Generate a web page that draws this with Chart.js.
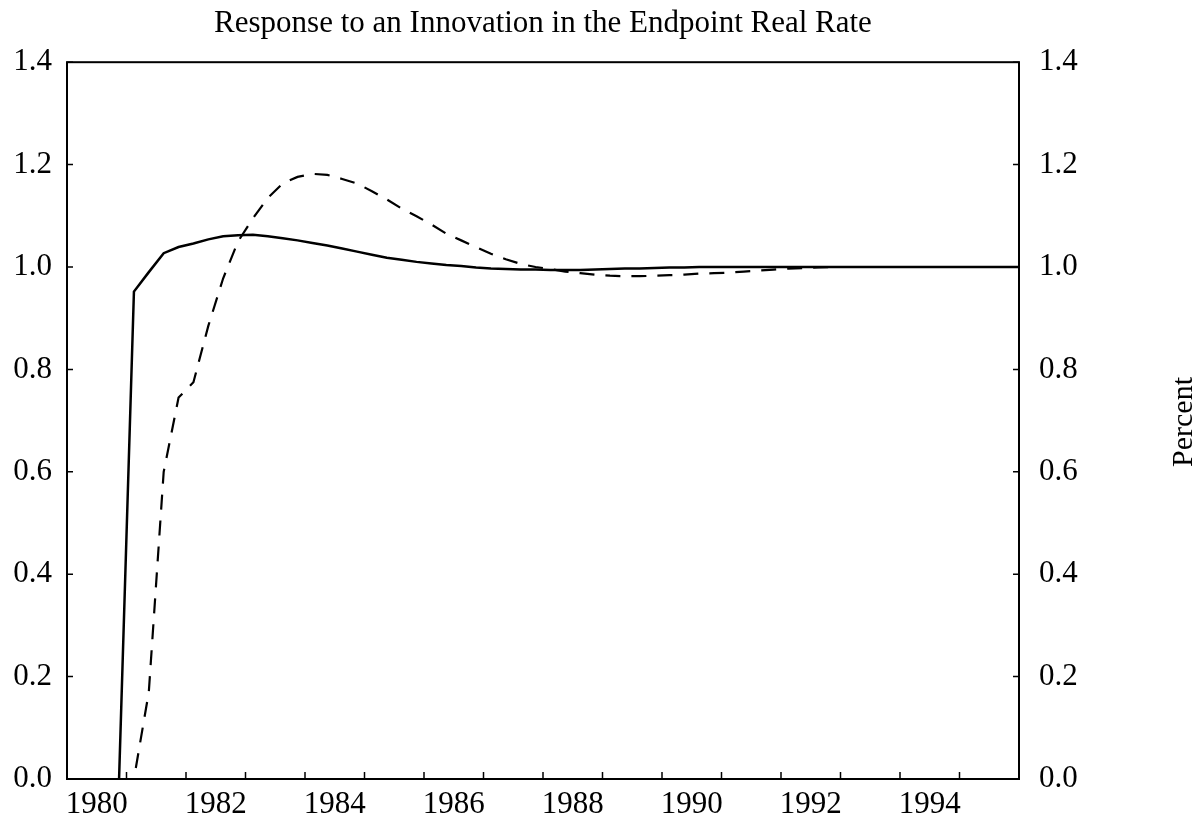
<!DOCTYPE html>
<html>
<head>
<meta charset="utf-8">
<title>Response to an Innovation in the Endpoint Real Rate</title>
<script src="https://cdn.jsdelivr.net/npm/chart.js@4"></script>
<style>
  html, body { margin: 0; padding: 0; background: #fff; }
  #chart { display: block; }
</style>
</head>
<body>
<canvas id="chart" width="1196" height="818"></canvas>
<script>
// quarterly impulse response, first quarter plotted at 1980:4
const START = 1980.875;
const X_MIN = 1980;
const X_MAX = 1996;
const LABEL_YEARS = [1980, 1982, 1984, 1986, 1988, 1990, 1992, 1994];
const TICK_YEARS = [1981, 1982, 1983, 1984, 1985, 1986, 1987, 1988, 1989, 1990, 1991, 1992, 1993, 1994, 1995];
const Y_TICKS = [0, 0.2, 0.4, 0.6, 0.8, 1.0, 1.2, 1.4];

// solid line
const SOLID = [
  0, 0.952, 0.990, 1.027, 1.039, 1.046, 1.054, 1.060, 1.062, 1.063,
  1.060, 1.056, 1.052, 1.047, 1.042, 1.036, 1.030, 1.024, 1.018, 1.014,
  1.010, 1.007, 1.004, 1.002, 0.999, 0.997, 0.996, 0.995, 0.995, 0.994,
  0.994, 0.994, 0.995, 0.996, 0.997, 0.997, 0.998, 0.999, 0.999, 1.000,
  1.000, 1.000, 1.000, 1.000, 1.000, 1.000, 1.000, 1.000, 1.000, 1.000,
  1.000, 1.000, 1.000, 1.000, 1.000, 1.000, 1.000, 1.000, 1.000, 1.000,
  1.000, 1.000
];

// dashed line
const DASHED = [
  0, 0, 0.170, 0.600, 0.745, 0.775, 0.885, 0.978, 1.050, 1.095,
  1.135, 1.163, 1.176, 1.182, 1.180, 1.172, 1.163, 1.148, 1.132, 1.114,
  1.099, 1.083, 1.065, 1.052, 1.039, 1.026, 1.015, 1.006, 1.000, 0.996,
  0.991, 0.988, 0.985, 0.983, 0.982, 0.982, 0.983, 0.984, 0.985, 0.987,
  0.988, 0.989, 0.991, 0.993, 0.995, 0.997, 0.998, 0.999, 1.000, 1.000,
  1.000, 1.000, 1.000, 1.000, 1.000, 1.000, 1.000, 1.000, 1.000, 1.000,
  1.000, 1.000
];

const QUARTERS = SOLID.map((_, i) => START + i * 0.25);

Chart.defaults.font.family = '"Liberation Serif", "Times New Roman", serif';
Chart.defaults.color = "#000";

// frame, inward tick marks and the rotated "Percent" label
const framePlugin = {
  id: "frame",
  afterDatasetsDraw(chart) {
    const { ctx, chartArea: a, scales } = chart;
    ctx.save();
    ctx.strokeStyle = "#000";
    ctx.lineWidth = 2;
    ctx.strokeRect(a.left, a.top, a.right - a.left, a.bottom - a.top);

    ctx.lineWidth = 1.5;
    ctx.beginPath();
    TICK_YEARS.forEach(v => {
      const x = scales.x.getPixelForValue(v);
      ctx.moveTo(x, a.bottom);
      ctx.lineTo(x, a.bottom - 7);
    });
    Y_TICKS.forEach(v => {
      const y = scales.y.getPixelForValue(v);
      ctx.moveTo(a.left, y);
      ctx.lineTo(a.left + 6, y);
      ctx.moveTo(a.right, y);
      ctx.lineTo(a.right - 6, y);
    });
    ctx.stroke();

    ctx.translate(1192, 422);
    ctx.rotate(-Math.PI / 2);
    ctx.font = '30px "Liberation Serif"';
    ctx.fillStyle = "#000";
    ctx.textAlign = "center";
    ctx.textBaseline = "alphabetic";
    ctx.fillText("Percent", 0, 0);
    ctx.restore();
  }
};

function initChart() {
  const ctx = document.getElementById("chart").getContext("2d");

  const yAxis = (position, width, pad) => ({
    position,
    min: 0,
    max: 1.4,
    afterBuildTicks: s => { s.ticks = Y_TICKS.map(v => ({ value: v })); },
    afterFit: s => { s.width = width; },
    grid: { display: false, drawTicks: false },
    border: { display: false },
    ticks: { padding: pad, font: { size: 31 }, color: "#000", callback: v => v.toFixed(1) }
  });

  new Chart(ctx, {
    type: "line",
    data: {
      datasets: [
        {
          label: "solid",
          data: SOLID.map((v, i) => ({ x: QUARTERS[i], y: v })),
          borderColor: "#000",
          borderWidth: 2.5,
          pointRadius: 0,
          tension: 0,
          fill: false
        },
        {
          label: "dashed",
          data: DASHED.map((v, i) => ({ x: QUARTERS[i], y: v })),
          borderColor: "#000",
          borderWidth: 2.2,
          borderDash: [15, 11],
          pointRadius: 0,
          tension: 0,
          fill: false
        }
      ]
    },
    options: {
      responsive: false,
      animation: false,
      devicePixelRatio: 1,
      layout: { padding: 0 },
      plugins: {
        legend: { display: false },
        tooltip: { enabled: false },
        title: {
          display: true,
          fullSize: false,
          text: "Response to an Innovation in the Endpoint Real Rate",
          color: "#000",
          font: { size: 31, weight: "normal" },
          padding: { top: 5, bottom: 20 }
        }
      },
      scales: {
        x: {
          type: "linear",
          position: "bottom",
          min: X_MIN,
          max: X_MAX,
          afterBuildTicks: s => { s.ticks = LABEL_YEARS.map(y => ({ value: y + 0.5 })); },
          afterFit: s => { s.height = 39; },
          grid: { display: false, drawTicks: false },
          border: { display: false },
          ticks: {
            autoSkip: false,
            maxRotation: 0,
            padding: 7,
            font: { size: 31 },
            color: "#000",
            callback: v => String(Math.floor(v))
          }
        },
        y: yAxis("left", 67, 15),
        y2: yAxis("right", 177, 20)
      }
    },
    plugins: [framePlugin]
  });
}

window.addEventListener("load", initChart);
</script>
</body>
</html>
